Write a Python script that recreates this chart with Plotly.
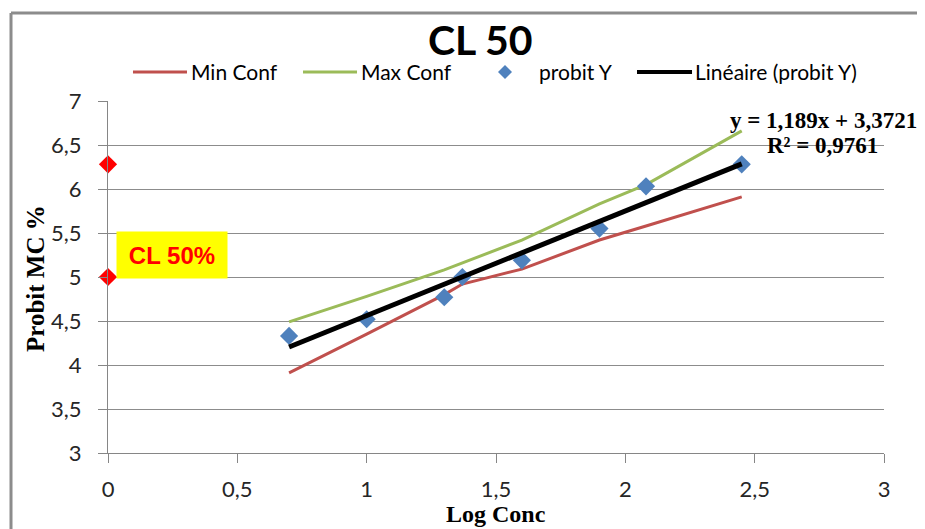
import plotly.graph_objects as go

log_conc = [0.70, 1.00, 1.30, 1.37, 1.60, 1.90, 2.08, 2.45]
probit_y = [4.33, 4.52, 4.77, 5.00, 5.19, 5.55, 6.03, 6.28]
min_conf = [3.91, 4.35, 4.80, 4.92, 5.09, 5.42, 5.58, 5.91]
max_conf = [4.49, 4.78, 5.08, 5.16, 5.42, 5.83, 6.05, 6.66]
slope, intercept = 1.189, 3.3721
lin_x = [0.70, 2.45]
lin_y = [slope * v + intercept for v in lin_x]
cl_x = [0, 0]
cl_y = [6.28, 5.00]
x_ticks = [0, 0.5, 1, 1.5, 2, 2.5, 3]
y_ticks = [3, 3.5, 4, 4.5, 5, 5.5, 6, 6.5, 7]

SANS = "Lato, Liberation Sans, Arial, sans-serif"
SERIF = "Liberation Serif, Times New Roman, serif"
RED, GREEN, BLUE, BLACK = "#c0504d", "#9bbb59", "#4f81bd", "#000000"

fig = go.Figure()
fig.add_trace(go.Scatter(x=log_conc, y=min_conf, mode="lines", name="Min Conf",
                         line=dict(color=RED, width=3), showlegend=False))
fig.add_trace(go.Scatter(x=log_conc, y=max_conf, mode="lines", name="Max Conf",
                         line=dict(color=GREEN, width=3), showlegend=False))
fig.add_trace(go.Scatter(x=log_conc, y=probit_y, mode="markers", name="probit Y",
                         marker=dict(symbol="diamond", color=BLUE, size=14), showlegend=False))
fig.add_trace(go.Scatter(x=lin_x, y=lin_y, mode="lines", name="Linéaire (probit Y)",
                         line=dict(color=BLACK, width=5), showlegend=False))
fig.add_trace(go.Scatter(x=cl_x, y=cl_y, mode="markers", showlegend=False, cliponaxis=False,
                         marker=dict(symbol="diamond", color="#ff0000", size=14)))

# custom legend (paper coordinates)
LEG_Y = 1.0824
legend_items = [
    ("line", RED, 3, 0.0322, 0.1018, "Min Conf", 0.1044),
    ("line", GREEN, 3, 0.2513, 0.3209, "Max Conf", 0.3235),
    ("diamond", BLUE, 0, 0.5116, 0.5116, "probit Y", 0.5528),
    ("line", BLACK, 4, 0.6817, 0.7526, "Linéaire (probit Y)", 0.7539),
]
for kind, col, w, xa, xb, label, xt in legend_items:
    if kind == "line":
        fig.add_shape(type="line", xref="paper", yref="paper", x0=xa, x1=xb, y0=LEG_Y, y1=LEG_Y,
                      line=dict(color=col, width=w))
    else:
        fig.add_shape(type="path", xref="paper", yref="paper", xsizemode="pixel", ysizemode="pixel",
                      xanchor=xa, yanchor=LEG_Y, path="M 0 7 L 7 0 L 0 -7 L -7 0 Z",
                      fillcolor=col, line=dict(width=0))
    fig.add_annotation(x=xt, y=LEG_Y, xref="paper", yref="paper", text=label, showarrow=False,
                       xanchor="left", yanchor="middle",
                       font=dict(family=SANS, size=21, color="#000000"))

fig.add_annotation(x=0.2474, y=5.25, xref="x", yref="y", text="<b>CL 50%</b>",
                   showarrow=False, xanchor="center", yanchor="middle",
                   width=110, height=46, borderpad=0,
                   bgcolor="#ffff00", font=dict(family="Liberation Sans, Arial", size=24, color="#ff0000"))
fig.add_annotation(x=0.9214, y=0.9432, xref="paper", yref="paper",
                   text="<b>y = 1,189x + 3,3721</b>", showarrow=False,
                   xanchor="center", yanchor="middle",
                   font=dict(family=SERIF, size=23, color="#000000"))
fig.add_annotation(x=0.9208, y=0.8722, xref="paper", yref="paper",
                   text="<b>R² = 0,9761</b>", showarrow=False,
                   xanchor="center", yanchor="middle",
                   font=dict(family=SERIF, size=23, color="#000000"))
fig.add_annotation(x=0.5, y=-0.172, xref="paper", yref="paper",
                   text="<b>Log Conc</b>", showarrow=False,
                   xanchor="center", yanchor="middle",
                   font=dict(family=SERIF, size=24, color="#000000"))
fig.add_annotation(x=-0.0941, y=0.497, xref="paper", yref="paper",
                   text="<b>Probit MC %</b>", showarrow=False, textangle=-90,
                   xanchor="center", yanchor="middle",
                   font=dict(family=SERIF, size=25, color="#000000"))

# chart border
fig.add_shape(type="line", xref="paper", yref="paper", x0=-0.125, x1=-0.125, y0=-0.4, y1=1.25,
              line=dict(color="#8c8c8c", width=3))
fig.add_shape(type="line", xref="paper", yref="paper", x0=-0.125, x1=1.2, y0=1.25, y1=1.25,
              line=dict(color="#8c8c8c", width=3))

fig.update_layout(
    width=917, height=521,
    paper_bgcolor="white", plot_bgcolor="white",
    separators=", ",
    showlegend=False,
    margin=dict(l=100, r=41, t=93, b=76, autoexpand=False),
    title=dict(text="<b>CL 50</b>", x=0.515, xanchor="center", y=0.937, yanchor="middle",
               font=dict(family=SANS, size=41, color="#000000")),
    xaxis=dict(range=[0, 3], tickvals=x_ticks, showgrid=False, zeroline=False,
               showline=True, linecolor="#868686", linewidth=1, automargin=False,
               ticks="outside", ticklen=9, tickcolor="#868686",
               ticklabelstandoff=8,
               tickfont=dict(family=SANS, size=22, color="#262626")),
    yaxis=dict(range=[3, 7], tickvals=y_ticks, showgrid=True, gridcolor="#8c8c8c", gridwidth=1,
               zeroline=False, showline=True, linecolor="#868686", linewidth=1, automargin=False,
               ticks="outside", ticklen=9, tickcolor="#868686",
               ticklabelstandoff=12,
               tickfont=dict(family=SANS, size=22, color="#262626")),
)

fig.write_html("out.html")
